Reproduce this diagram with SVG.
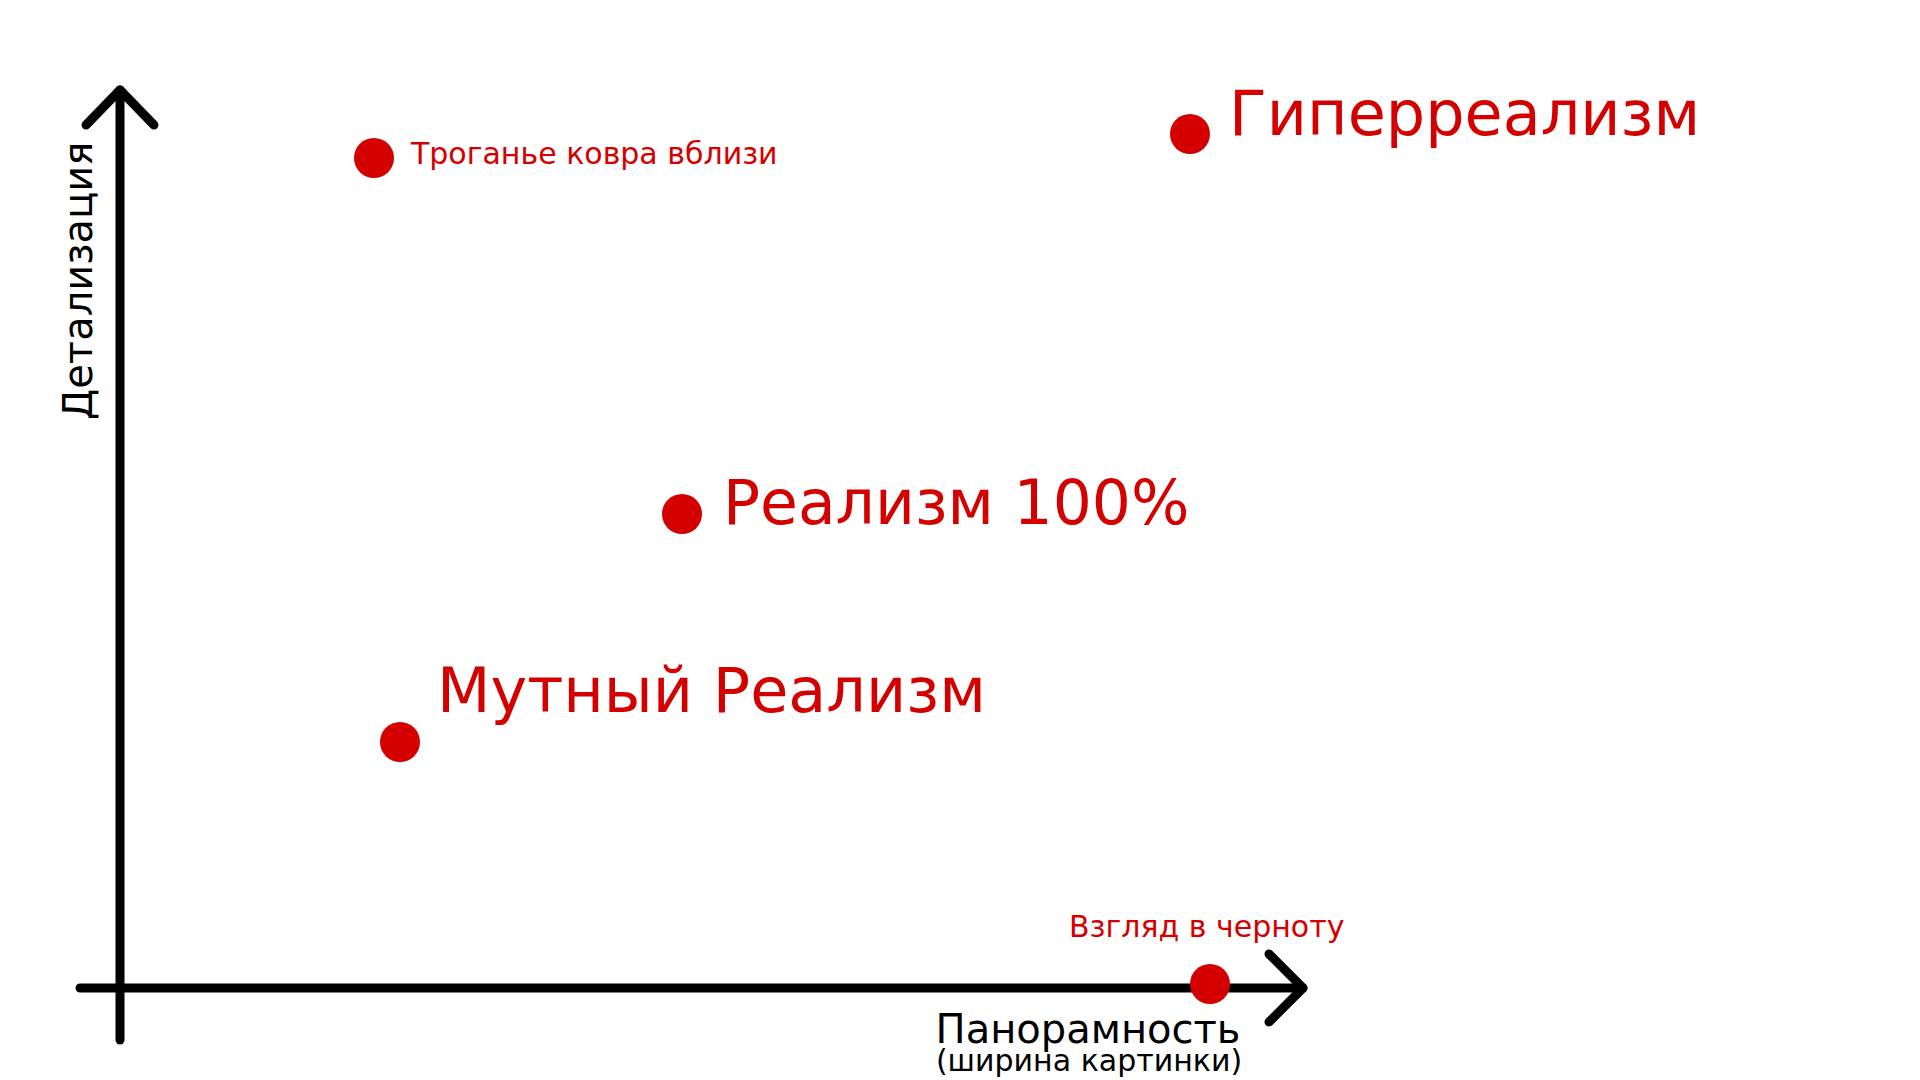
<svg xmlns="http://www.w3.org/2000/svg" width="1920" height="1080" viewBox="0 0 1920 1080">
<style>
.ax{fill:none;stroke:#000;stroke-width:9;stroke-linecap:round;stroke-linejoin:round}
.dot{fill:#d40000}
.lbl{font-family:"DejaVu Sans",sans-serif;fill:#d40000}
.axl{font-family:"DejaVu Sans",sans-serif;fill:#000}
</style>
<rect width="1920" height="1080" fill="#fff"/>
<g id="connectors">
<path class="ax" d="M120,1040 V90"/>
<path class="ax" d="M86,125 L120,90 L154,125"/>
<path class="ax" d="M80,988 H1303"/>
<path class="ax" d="M1269,954 L1303,988 L1269,1022"/>
</g>
<g id="axis-y"><text class="axl" font-size="40" transform="translate(92,420) rotate(-90)">Детализация</text></g>
<g id="axis-x">
<text class="axl" font-size="40" x="1088" y="1043" text-anchor="middle">Панорамность</text>
<text class="axl" font-size="30" x="1089" y="1071" text-anchor="middle">(ширина картинки)</text>
</g>
<g id="node-carpet"><circle class="dot" cx="374" cy="158" r="20"/><text class="lbl" font-size="30" x="411" y="164">Троганье ковра вблизи</text></g>
<g id="node-hyper"><circle class="dot" cx="1190" cy="134" r="20"/><text class="lbl" font-size="62" x="1229" y="135">Гиперреализм</text></g>
<g id="node-real"><circle class="dot" cx="682" cy="514" r="20"/><text class="lbl" font-size="61.5" x="723" y="524">Реализм 100%</text></g>
<g id="node-murky"><circle class="dot" cx="400" cy="742" r="20"/><text class="lbl" font-size="62" x="437" y="712">Мутный Реализм</text></g>
<g id="node-black"><circle class="dot" cx="1210" cy="984" r="20"/><text class="lbl" font-size="30" x="1069" y="937">Взгляд в черноту</text></g>
</svg>
